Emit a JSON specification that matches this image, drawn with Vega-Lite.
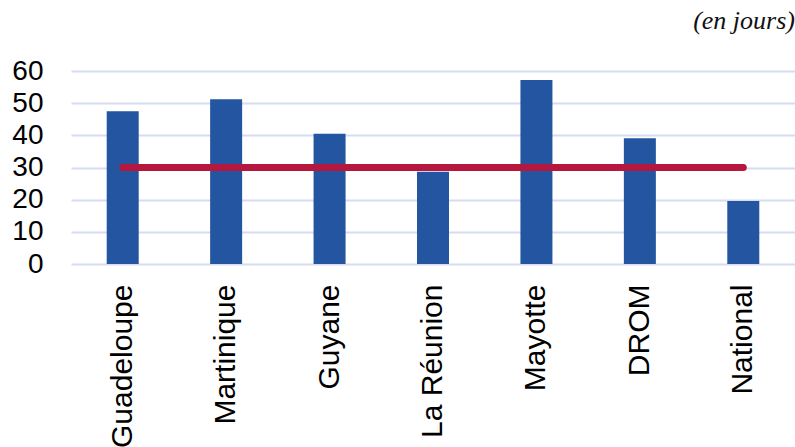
{
  "$schema": "https://vega.github.io/schema/vega-lite/v6.json",
  "autosize": {"type": "none"},
  "padding": {"left": 71, "top": 71, "right": 0, "bottom": 183},
  "width": 724,
  "height": 193,
  "background": "white",
  "title": {
    "text": "(en jours)",
    "anchor": "end",
    "font": "Liberation Serif",
    "fontStyle": "italic",
    "fontWeight": "normal",
    "fontSize": 26,
    "color": "#111111",
    "baseline": "alphabetic",
    "offset": 2
  },
  "data": {
    "values": [
      {"territoire": "Guadeloupe", "delai": 47.5, "reference": 30},
      {"territoire": "Martinique", "delai": 51.2, "reference": 30},
      {"territoire": "Guyane", "delai": 40.5, "reference": 30},
      {"territoire": "La Réunion", "delai": 28.7, "reference": 30},
      {"territoire": "Mayotte", "delai": 57.2, "reference": 30},
      {"territoire": "DROM", "delai": 39.1, "reference": 30},
      {"territoire": "National", "delai": 19.6, "reference": 30}
    ]
  },
  "encoding": {
    "x": {
      "field": "territoire",
      "type": "nominal",
      "sort": null,
      "scale": {"paddingInner": 0, "paddingOuter": 0},
      "axis": {
        "title": null,
        "labelAngle": -90,
        "labelFont": "Liberation Sans",
        "labelFontSize": 30,
        "labelColor": "#000000",
        "labelPadding": 20,
        "labelOverlap": false,
        "labelLimit": 400,
        "ticks": false,
        "domain": false,
        "grid": false
      }
    }
  },
  "layer": [
    {
      "mark": {"type": "bar", "size": 32, "color": "#2355A0"},
      "encoding": {
        "y": {
          "field": "delai",
          "type": "quantitative",
          "scale": {"domain": [0, 60], "nice": false},
          "axis": {
            "title": null,
            "values": [0, 10, 20, 30, 40, 50, 60],
            "tickCount": 7,
            "labelFont": "Liberation Sans",
            "labelFontSize": 28,
            "labelColor": "#000000",
            "labelPadding": 28,
            "labelOverlap": false,
            "labelBound": false,
            "labelFlush": false,
            "ticks": false,
            "domain": false,
            "grid": true,
            "gridColor": "#D6DCF0",
            "gridWidth": 2
          }
        }
      }
    },
    {
      "mark": {"type": "line", "color": "#B5173F", "strokeWidth": 7, "strokeCap": "round"},
      "encoding": {
        "y": {
          "field": "reference",
          "type": "quantitative",
          "scale": {"domain": [0, 60], "nice": false},
          "axis": {
            "title": null,
            "values": [0, 10, 20, 30, 40, 50, 60],
            "tickCount": 7,
            "labelFont": "Liberation Sans",
            "labelFontSize": 28,
            "labelColor": "#000000",
            "labelPadding": 28,
            "labelOverlap": false,
            "labelBound": false,
            "labelFlush": false,
            "ticks": false,
            "domain": false,
            "grid": true,
            "gridColor": "#D6DCF0",
            "gridWidth": 2
          }
        }
      }
    }
  ],
  "config": {"view": {"stroke": null}}
}
